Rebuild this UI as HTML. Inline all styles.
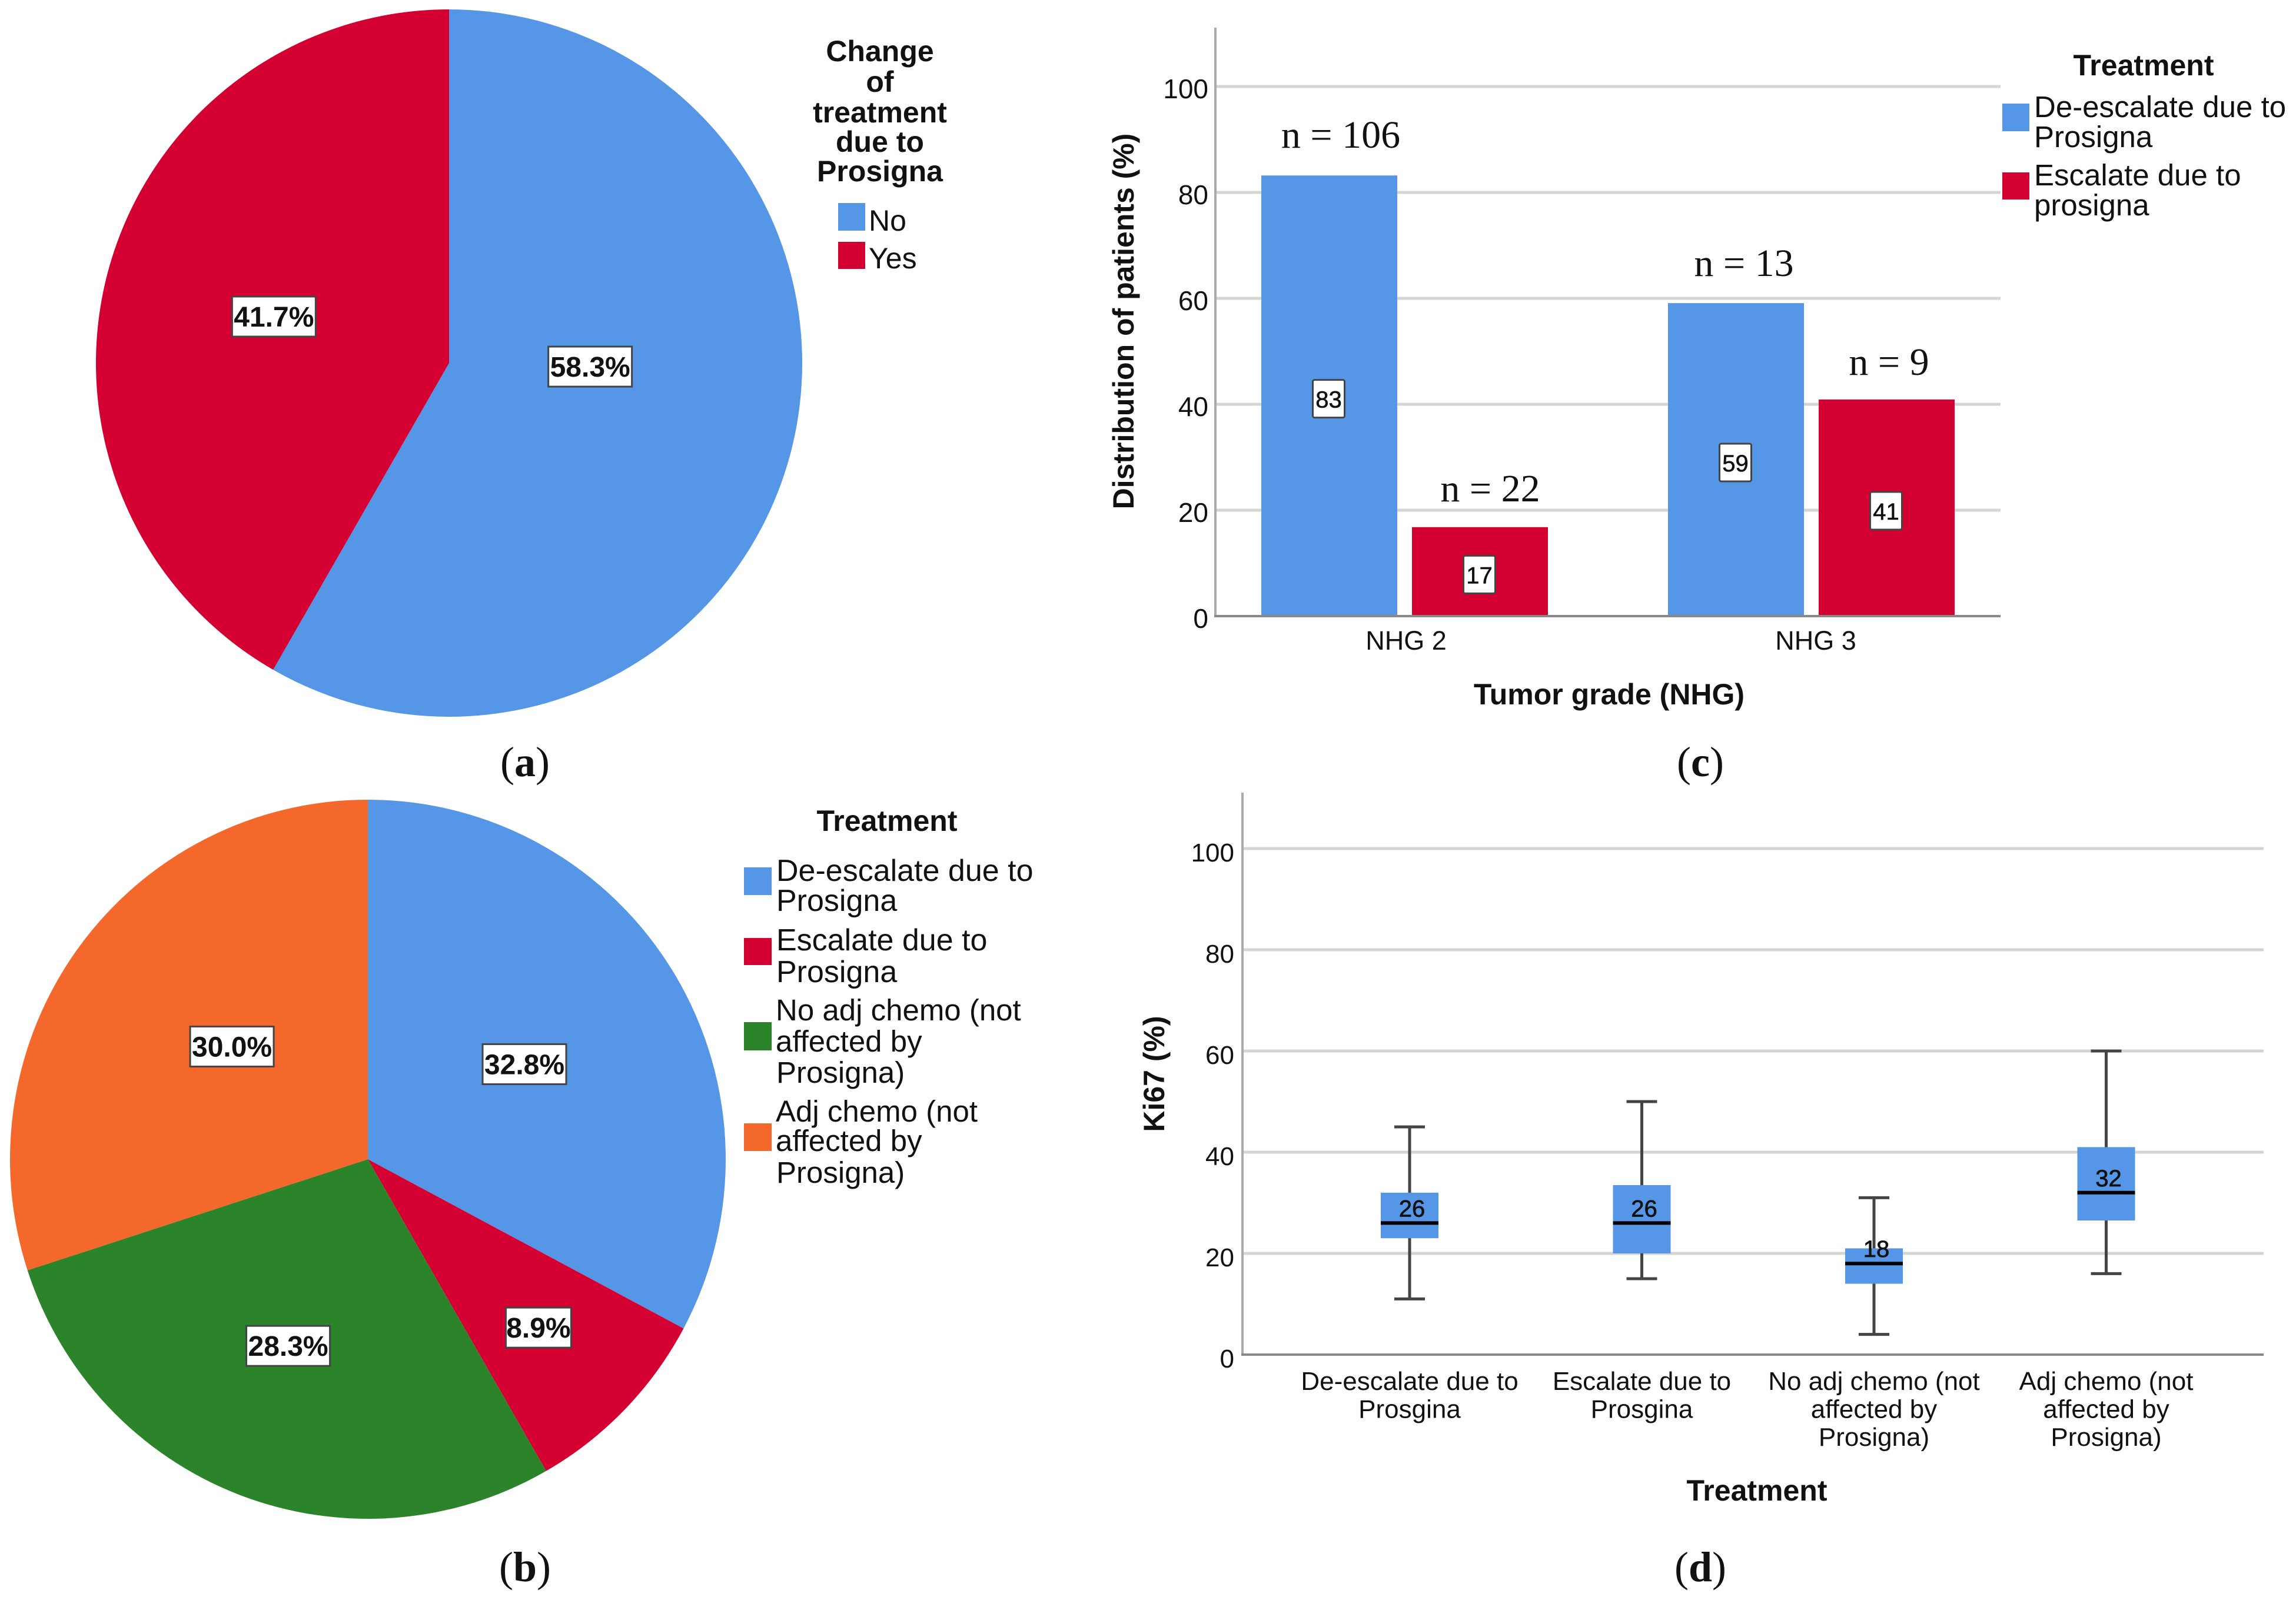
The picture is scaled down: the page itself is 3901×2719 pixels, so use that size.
<!DOCTYPE html>
<html lang="en">
<head>
<meta charset="utf-8">
<title>Prosigna treatment charts</title>
<style>
html,body{margin:0;padding:0;background:#fff}
svg{display:block}
text{font-family:"Liberation Sans",sans-serif;fill:#111}
.serif{font-family:"Liberation Serif",serif}
.t{font-size:50px;font-weight:bold;text-anchor:middle}
.l{font-size:50px}
.lb{font-size:52px}
.lc{font-size:51px}
.cap{font-family:"Liberation Serif",serif;font-size:72px;text-anchor:middle}
</style>
</head>
<body>
<svg id="fig" xmlns="http://www.w3.org/2000/svg" width="3901" height="2719" viewBox="0 0 3901 2719">
  <rect width="3901" height="2719" fill="#fff"/>

  <g id="pieA"></g>
  <g>
    <text class="t" x="1495" y="104">Change</text>
    <text class="t" x="1495" y="156">of</text>
    <text class="t" x="1495" y="208">treatment</text>
    <text class="t" x="1495" y="258">due to</text>
    <text class="t" x="1495" y="308">Prosigna</text>
    <rect x="1424" y="345" width="46" height="47" fill="#5596E6"/>
    <text class="l" x="1476" y="392">No</text>
    <rect x="1424" y="411" width="46" height="46" fill="#D50032"/>
    <text class="l" x="1476" y="456">Yes</text>
  </g>
  <text class="cap" x="892" y="1319">(<tspan font-weight="bold">a</tspan>)</text>

  <g id="pieB"></g>
  <g>
    <text class="t" x="1507" y="1412">Treatment</text>
    <rect x="1264" y="1474" width="47" height="47" fill="#5596E6"/>
    <text class="lb" x="1319" y="1497">De-escalate due to</text>
    <text class="lb" x="1319" y="1548">Prosigna</text>
    <rect x="1264" y="1594" width="47" height="46" fill="#D50032"/>
    <text class="lb" x="1319" y="1615">Escalate due to</text>
    <text class="lb" x="1319" y="1669">Prosigna</text>
    <rect x="1264" y="1737" width="47" height="48" fill="#2B832A"/>
    <text class="lc" x="1318" y="1734">No adj chemo (not</text>
    <text class="lc" x="1318" y="1787">affected by</text>
    <text class="lc" x="1319" y="1840">Prosigna)</text>
    <rect x="1264" y="1909" width="47" height="47" fill="#F4692B"/>
    <text class="lc" x="1318" y="1906">Adj chemo (not</text>
    <text class="lc" x="1318" y="1956">affected by</text>
    <text class="lc" x="1319" y="2010">Prosigna)</text>
  </g>
  <text class="cap" x="892" y="2687">(<tspan font-weight="bold">b</tspan>)</text>

  <g id="barC"></g>
  <text class="t" x="2734" y="1197">Tumor grade (NHG)</text>
  <text class="t" transform="translate(1926,546) rotate(-90)">Distribution of patients (%)</text>
  <g>
    <text class="t" x="3642" y="128">Treatment</text>
    <rect x="3402" y="176" width="46" height="47" fill="#5596E6"/>
    <text class="lc" x="3456" y="199">De-escalate due to</text>
    <text class="lc" x="3456" y="250">Prosigna</text>
    <rect x="3402" y="293" width="46" height="46" fill="#D50032"/>
    <text class="lc" x="3456" y="315">Escalate due to</text>
    <text class="lc" x="3456" y="366">prosigna</text>
  </g>
  <text class="cap" x="2889" y="1319">(<tspan font-weight="bold">c</tspan>)</text>

  <g id="boxD"></g>
  <text class="t" x="2985" y="2550">Treatment</text>
  <text class="t" transform="translate(1978,1825) rotate(-90)">Ki67 (%)</text>
  <text class="cap" x="2889" y="2687">(<tspan font-weight="bold">d</tspan>)</text>
</svg>

<script>
// ---- data ----
const pieAValues = [58.3, 41.7];
const pieANames = ['no', 'yes'];
const pieBValues = [32.8, 8.9, 28.3, 30.0];
const pieBNames = ['deescalate', 'escalate', 'no-adj-chemo', 'adj-chemo'];

const barCategories = ['NHG 2', 'NHG 3'];
const deescalateValues = [83.2, 59.1];
const escalateValues = [16.8, 40.9];
const deescalateCounts = [106, 13];
const escalateCounts = [22, 9];
const barTicks = [0, 20, 40, 60, 80, 100];

const boxCategories = [
  ['De-escalate due to', 'Prosgina'],
  ['Escalate due to', 'Prosgina'],
  ['No adj chemo (not', 'affected by', 'Prosigna)'],
  ['Adj chemo (not', 'affected by', 'Prosigna)']
];
const boxLow = [11, 15, 4, 16];
const boxQ1 = [23, 20, 14, 26.5];
const boxMedian = [26, 26, 18, 32];
const boxQ3 = [32, 33.5, 21, 41];
const boxHigh = [45, 50, 31, 60];
const boxTicks = [0, 20, 40, 60, 80, 100];

// ---- layout / style (separate from the data) ----
const BLUE = '#5596E6', RED = '#D50032', GREEN = '#2B832A', ORANGE = '#F4692B';
const pieAColors = [BLUE, RED];
const pieBColors = [BLUE, RED, GREEN, ORANGE];
const pieARadial = [0.51, 0.51];
const pieANudge = [[-56, -73], [-2, 0]];
const pieBRadial = [0.514, 0.68, 0.565, 0.5];
const pieBNudge = [[-2, 0], [-7, -3], [-12, -5], [15, -12]];
const deescalateCountNudge = [[19.5, -47], [13.5, -46]];
const escalateCountNudge = [[17.5, -44], [4, -42]];

const NS = 'http://www.w3.org/2000/svg';
function mk(tag, attrs, parent, txt) {
  const el = document.createElementNS(NS, tag);
  for (const k in attrs) el.setAttribute(k, attrs[k]);
  if (txt !== undefined) el.textContent = txt;
  parent.appendChild(el);
  return el;
}

function drawPie(group, values, colors, names, cx, cy, rx, ry, radial, nudge) {
  const total = values.reduce((a, b) => a + b, 0);
  const angleOf = share => share / total * 2 * Math.PI;
  let start = 0;
  values.forEach((v, i) => {
    const sweep = angleOf(v);
    const end = start + sweep;
    const x0 = cx + rx * Math.sin(start), y0 = cy - ry * Math.cos(start);
    const x1 = cx + rx * Math.sin(end), y1 = cy - ry * Math.cos(end);
    const slice = mk('path', {
      d: `M${cx} ${cy}L${x0} ${y0}A${rx} ${ry} 0 ${sweep > Math.PI ? 1 : 0} 1 ${x1} ${y1}Z`,
      fill: colors[i]
    }, group);
    
    
    start = end;
  });
  start = 0;
  values.forEach((v, i) => {
    const mid = start + angleOf(v) / 2;
    start += angleOf(v);
    const n = nudge[i];
    const lx = cx + rx * radial[i] * Math.sin(mid) + n[0];
    const ly = cy - ry * radial[i] * Math.cos(mid) + n[1];
    const s = v.toFixed(1) + '%';
    const w = s.length > 4 ? 142 : 111;
    const box = mk('rect', {
      x: lx - w / 2, y: ly - 34, width: w, height: 68,
      fill: '#fff', stroke: '#444', 'stroke-width': 3
    }, group);
    
    
    const t = mk('text', {
      x: lx, y: ly + 17, 'text-anchor': 'middle', 'font-size': 48, 'font-weight': 'bold'
    }, group, s);
    
    
  });
}
drawPie(document.getElementById('pieA'), pieAValues, pieAColors, pieANames, 763, 617, 600, 601, pieARadial, pieANudge);
drawPie(document.getElementById('pieB'), pieBValues, pieBColors, pieBNames, 625, 1970, 608, 611, pieBRadial, pieBNudge);

// ---- bar chart c ----
(function () {
  const g = document.getElementById('barC');
  const y = v => 1047 - v * 9;
  const groupX = i => 2387 + i * 691;
  const catX = i => 2389 + i * 696;
  const barW = 231;
  barTicks.forEach(t => {
    if (t > 0) {
      const grid = mk('line', {x1: 2065, x2: 3399, y1: y(t), y2: y(t), stroke: '#d4d4d4', 'stroke-width': 5}, g);
      
      
    }
    const lab = mk('text', {x: 2053, y: y(t) + 20, 'text-anchor': 'end', 'font-size': 46}, g, t);
    
    
  });
  const axisY = mk('line', {x1: 2065, x2: 2065, y1: 47, y2: 1049, stroke: '#aaa', 'stroke-width': 4}, g);
  
  
  barCategories.forEach((c, i) => {
    [[deescalateValues, BLUE, -244, deescalateCounts, 'deescalate', deescalateCountNudge],
     [escalateValues, RED, 12, escalateCounts, 'escalate', escalateCountNudge]].forEach(s => {
      const v = s[0][i];
      const x = groupX(i) + s[2];
      const bar = mk('rect', {x: x, y: y(v), width: barW, height: y(0) - y(v), fill: s[1]}, g);
      
      
      const cx = x + barW / 2, cy = y(v / 2) + 5;
      const box = mk('rect', {x: cx - 27 - 1, y: cy - 32, width: 54, height: 64, rx: 3, fill: '#fff', stroke: '#444', 'stroke-width': 3}, g);
      
      
      const val = mk('text', {x: cx - 1, y: cy + 15, 'text-anchor': 'middle', 'font-size': 40, stroke: '#111', 'stroke-width': 0.6}, g, Math.round(v));
      
      
      const nudge = s[5][i];
      const n = mk('text', {x: cx + nudge[0], y: y(v) + nudge[1], 'text-anchor': 'middle', 'font-size': 66, class: 'serif'}, g, 'n = ' + s[3][i]);
      
      
    });
    const cat = mk('text', {x: catX(i), y: 1104, 'text-anchor': 'middle', 'font-size': 45}, g, c);
    
    
  });
  const axisX = mk('line', {x1: 2063, x2: 3399, y1: 1047, y2: 1047, stroke: '#888', 'stroke-width': 4}, g);
  
  
})();

// ---- box plot d ----
(function () {
  const g = document.getElementById('boxD');
  const y = v => 2302 - v * 8.6;
  const x = i => 2395 + i * 394.5;
  const W = 98, CAP = 52;
  boxTicks.forEach(t => {
    if (t > 0) {
      const grid = mk('line', {x1: 2111, x2: 3846, y1: y(t), y2: y(t), stroke: '#d4d4d4', 'stroke-width': 5}, g);
      
      
    }
    const lab = mk('text', {x: 2097, y: y(t) + 22, 'text-anchor': 'end', 'font-size': 44}, g, t);
    
    
  });
  const axisY = mk('line', {x1: 2111, x2: 2111, y1: 1347, y2: 2304, stroke: '#aaa', 'stroke-width': 4}, g);
  
  
  const axisX = mk('line', {x1: 2109, x2: 3846, y1: y(0), y2: y(0), stroke: '#888', 'stroke-width': 4}, g);
  
  
  boxCategories.forEach((lines, i) => {
    const cx = x(i);
    const stem = mk('line', {x1: cx, x2: cx, y1: y(boxHigh[i]), y2: y(boxLow[i]), stroke: '#444', 'stroke-width': 5}, g);
    
    
    [boxHigh[i], boxLow[i]].forEach(v => {
      const cap = mk('line', {x1: cx - CAP / 2, x2: cx + CAP / 2, y1: y(v), y2: y(v), stroke: '#444', 'stroke-width': 5}, g);
      
      
    });
    const box = mk('rect', {x: cx - W / 2, y: y(boxQ3[i]), width: W, height: y(boxQ1[i]) - y(boxQ3[i]), fill: BLUE}, g);
    
    
    const med = mk('line', {x1: cx - W / 2, x2: cx + W / 2, y1: y(boxMedian[i]), y2: y(boxMedian[i]), stroke: '#000', 'stroke-width': 6}, g);
    
    
    const val = mk('text', {x: cx + 4, y: y(boxMedian[i]) - 11, 'text-anchor': 'middle', 'font-size': 40, stroke: '#111', 'stroke-width': 0.8}, g, boxMedian[i]);
    
    
    lines.forEach((ln, k) => {
      const t = mk('text', {x: cx, y: 2362 + k * 47.5, 'text-anchor': 'middle', 'font-size': 44}, g, ln);
      
      
    });
  });
})();
</script>
</body>
</html>
